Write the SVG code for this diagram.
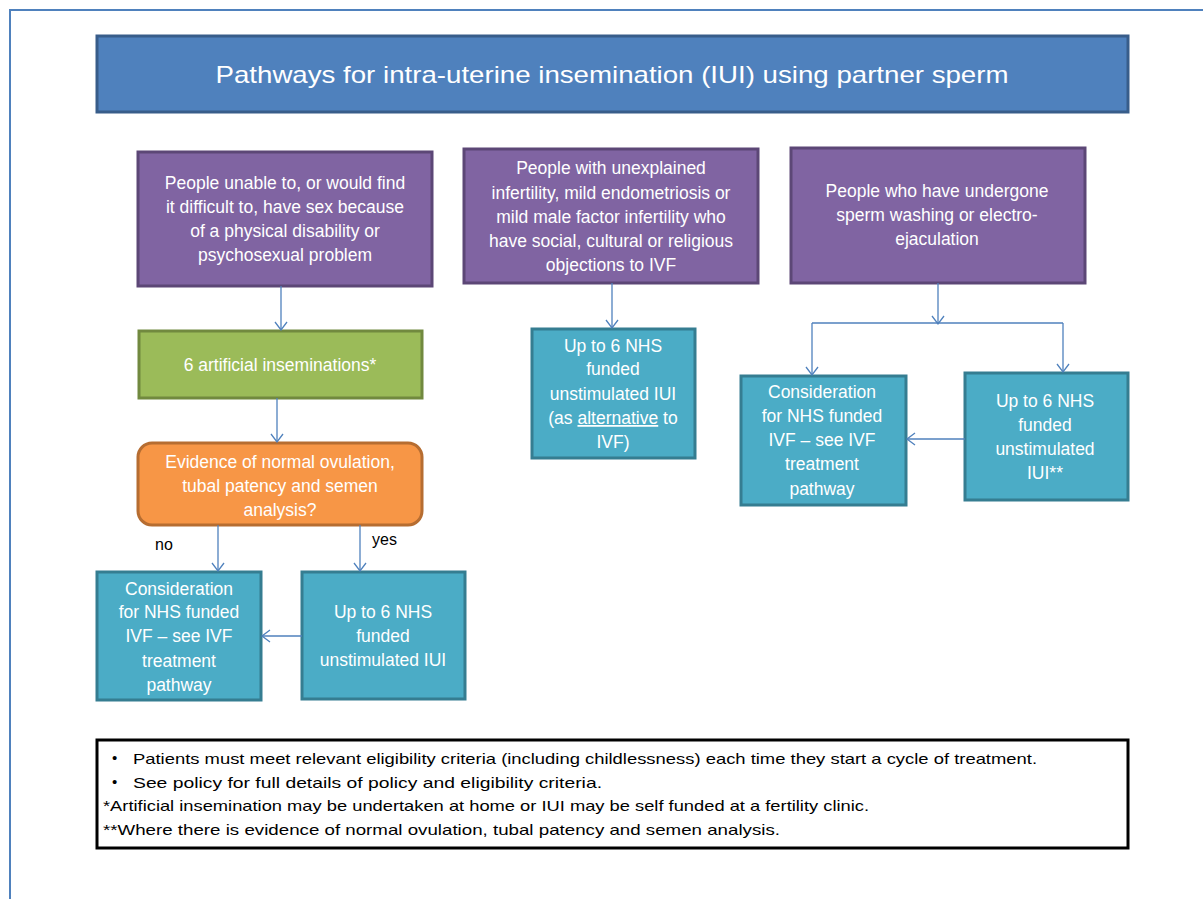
<svg xmlns="http://www.w3.org/2000/svg" width="1203" height="899" viewBox="0 0 1203 899">
<defs>
<marker id="arr" markerUnits="userSpaceOnUse" markerWidth="12" markerHeight="14" refX="9" refY="7" orient="auto">
<path d="M1,1 L9,7 L1,13" fill="none" stroke="#4F81BD" stroke-width="1.3"/>
</marker>
<style>
.frame{fill:none;stroke:#4F81BD;stroke-width:2}
.title{fill:#4F81BD;stroke:#385D8A;stroke-width:3}
.purple{fill:#8064A2;stroke:#5C4776;stroke-width:3}
.green{fill:#9BBB59;stroke:#71893F;stroke-width:3}
.orange{fill:#F79646;stroke:#B66D31;stroke-width:3}
.teal{fill:#4BACC6;stroke:#357D91;stroke-width:3}
.notes{fill:#fff;stroke:#000;stroke-width:3}
.t{font-family:"Liberation Sans",Arial,sans-serif;font-size:17.5px;fill:#fff;text-anchor:middle}
.tt{font-family:"Liberation Sans",Arial,sans-serif;font-size:24px;fill:#fff;text-anchor:middle}
.lbl{font-family:"Liberation Sans",Arial,sans-serif;font-size:16px;fill:#000}
.n{font-family:"Liberation Sans",Arial,sans-serif;font-size:15px;fill:#000}
.c{fill:none;stroke:#4F81BD;stroke-width:1.3}
</style>
</defs>
<rect width="1203" height="899" fill="#fff"/>
<path class="frame" d="M10,899 L10,10 L1203,10"/>

<g id="title">
<rect class="title" x="97" y="36" width="1031" height="76"/>
<text class="tt" x="612" y="83" textLength="793" lengthAdjust="spacingAndGlyphs">Pathways for intra-uterine insemination (IUI) using partner sperm</text>
</g>

<g id="p1">
<rect class="purple" x="138" y="152" width="294" height="134"/>
<text class="t" x="285" y="189">People unable to, or would find</text>
<text class="t" x="285" y="213">it difficult to, have sex because</text>
<text class="t" x="285" y="237">of a physical disability or</text>
<text class="t" x="285" y="261">psychosexual problem</text>
</g>

<g id="p2">
<rect class="purple" x="464" y="149" width="294" height="134"/>
<text class="t" x="611" y="174">People with unexplained</text>
<text class="t" x="611" y="199">infertility, mild endometriosis or</text>
<text class="t" x="611" y="223">mild male factor infertility who</text>
<text class="t" x="611" y="247">have social, cultural or religious</text>
<text class="t" x="611" y="271">objections to IVF</text>
</g>

<g id="p3">
<rect class="purple" x="791" y="148" width="294" height="135"/>
<text class="t" x="937" y="197">People who have undergone</text>
<text class="t" x="937" y="221">sperm washing or electro-</text>
<text class="t" x="937" y="245">ejaculation</text>
</g>

<g id="green">
<rect class="green" x="139" y="331" width="283" height="67"/>
<text class="t" x="280" y="371">6 artificial inseminations*</text>
</g>

<g id="decision">
<rect class="orange" x="138" y="443" width="284" height="82" rx="14" ry="14"/>
<text class="t" x="280" y="468">Evidence of normal  ovulation,</text>
<text class="t" x="280" y="492">tubal patency and semen</text>
<text class="t" x="280" y="516">analysis?</text>
</g>

<g id="iui-mid">
<rect class="teal" x="532" y="329" width="163" height="129"/>
<text class="t" x="613" y="352">Up to 6 NHS</text>
<text class="t" x="613" y="375">funded</text>
<text class="t" x="613" y="400">unstimulated IUI</text>
<text class="t" x="613" y="424">(as <tspan text-decoration="underline">alternative</tspan> to</text>
<text class="t" x="613" y="448">IVF)</text>
</g>

<g id="ivf-right">
<rect class="teal" x="741" y="376" width="165" height="129"/>
<text class="t" x="822" y="398">Consideration</text>
<text class="t" x="822" y="422">for NHS funded</text>
<text class="t" x="822" y="446">IVF – see IVF</text>
<text class="t" x="822" y="470">treatment</text>
<text class="t" x="822" y="495">pathway</text>
</g>

<g id="iui-right">
<rect class="teal" x="965" y="373" width="163" height="127"/>
<text class="t" x="1045" y="407">Up to 6 NHS</text>
<text class="t" x="1045" y="431">funded</text>
<text class="t" x="1045" y="455">unstimulated</text>
<text class="t" x="1045" y="479">IUI**</text>
</g>

<g id="ivf-left">
<rect class="teal" x="97" y="572" width="164" height="128"/>
<text class="t" x="179" y="595">Consideration</text>
<text class="t" x="179" y="618">for NHS funded</text>
<text class="t" x="179" y="642">IVF – see IVF</text>
<text class="t" x="179" y="667">treatment</text>
<text class="t" x="179" y="691">pathway</text>
</g>

<g id="iui-left">
<rect class="teal" x="302" y="572" width="163" height="127"/>
<text class="t" x="383" y="618">Up to 6 NHS</text>
<text class="t" x="383" y="642">funded</text>
<text class="t" x="383" y="666">unstimulated IUI</text>
</g>

<g id="connectors">
<path class="c" d="M281,286 L281,330" marker-end="url(#arr)"/>
<path class="c" d="M277,398 L277,442" marker-end="url(#arr)"/>
<path class="c" d="M218,525 L218,571" marker-end="url(#arr)"/>
<path class="c" d="M360,525 L360,571" marker-end="url(#arr)"/>
<path class="c" d="M302,636 L262,636" marker-end="url(#arr)"/>
<path class="c" d="M612,283 L612,328" marker-end="url(#arr)"/>
<path class="c" d="M938,283 L938,324" marker-end="url(#arr)"/>
<path class="c" d="M812,323 L1063,323"/>
<path class="c" d="M812,323 L812,375" marker-end="url(#arr)"/>
<path class="c" d="M1063,323 L1063,372" marker-end="url(#arr)"/>
<path class="c" d="M965,439 L907,439" marker-end="url(#arr)"/>
<text class="lbl" x="155" y="550">no</text>
<text class="lbl" x="372" y="545">yes</text>
</g>

<g id="notes">
<rect class="notes" x="97" y="740" width="1031" height="108"/>
<text class="n" x="112" y="763">•</text>
<text class="n" x="133" y="764" textLength="904" lengthAdjust="spacingAndGlyphs">Patients must meet relevant eligibility criteria (including childlessness) each time they start a cycle of treatment.</text>
<text class="n" x="112" y="787">•</text>
<text class="n" x="133" y="788" textLength="469" lengthAdjust="spacingAndGlyphs">See policy for full details of policy and eligibility criteria.</text>
<text class="n" x="103" y="811" textLength="766" lengthAdjust="spacingAndGlyphs">*Artificial insemination may be undertaken at home or IUI may be self funded at a fertility clinic.</text>
<text class="n" x="103" y="835" textLength="677" lengthAdjust="spacingAndGlyphs">**Where there is evidence of normal ovulation, tubal patency and semen analysis.</text>
</g>
</svg>
